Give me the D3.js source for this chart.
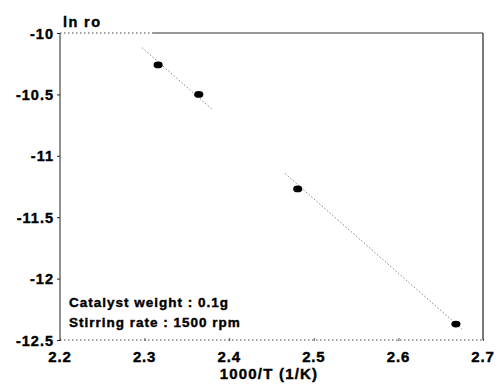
<!DOCTYPE html>
<html><head><meta charset="utf-8">
<script src="https://cdn.jsdelivr.net/npm/d3@7"></script>
<style>body{margin:0;background:#fff}</style>
</head><body>
<svg id="c" width="498" height="384"></svg>
<script>
const xVals = [2.316, 2.364, 2.481, 2.668];
const yVals = [-10.26, -10.50, -11.27, -12.37];
const xTicks = [2.2, 2.3, 2.4, 2.5, 2.6, 2.7];
const yTicks = [-10, -10.5, -11, -11.5, -12, -12.5];
const fitSlope = -6.06;
const fitIntercept = 3.80;
const fitSegments = [[2.297, 2.380], [2.466, 2.675]];
const notes = ["Catalyst weight : 0.1g", "Stirring rate : 1500 rpm"];

const svg = d3.select("#c");
const m = {l: 60, r: 15, t: 33, b: 44};
const W = 498, H = 384;
const x = d3.scaleLinear().domain([2.2, 2.7]).range([m.l, W - m.r]);
const y = d3.scaleLinear().domain([-12.5, -10]).range([H - m.b, m.t]);
const font = "'Liberation Sans', Arial, sans-serif";

function boldText(sel, size, ls) {
  sel.attr("font-family", font).attr("font-weight", "bold")
     .attr("font-size", size).attr("letter-spacing", ls)
     .attr("fill", "#000").attr("stroke", "#000").attr("stroke-width", 0.4);
}

// frame
const x0 = x(2.2), x1 = x(2.7), y0 = y(-12.5), y1 = y(-10);
svg.append("line").attr("x1", x0).attr("x2", x0).attr("y1", y1).attr("y2", y0).attr("stroke", "#222").attr("stroke-width", 1);
svg.append("line").attr("x1", x1).attr("x2", x1).attr("y1", y1).attr("y2", y0).attr("stroke", "#222").attr("stroke-width", 1.2);
svg.append("line").attr("x1", x0).attr("x2", x(2.31)).attr("y1", y1).attr("y2", y1).attr("stroke", "#444").attr("stroke-dasharray", "1.5,2.5");
svg.append("line").attr("x1", x(2.31)).attr("x2", x1).attr("y1", y1).attr("y2", y1).attr("stroke", "#333").attr("stroke-width", 1);
svg.append("line").attr("x1", x0).attr("x2", x1).attr("y1", y0).attr("y2", y0).attr("stroke", "#444").attr("stroke-dasharray", "1.5,2.5");

// axis tick marks
const ay = svg.append("g").attr("transform", `translate(${x0},0)`)
  .call(d3.axisLeft(y).tickValues(yTicks).tickFormat("").tickSize(3));
ay.select(".domain").remove();
ay.selectAll("line").attr("stroke", "#222");

const ax = svg.append("g").attr("transform", `translate(0,${y0})`)
  .call(d3.axisBottom(x).tickValues(xTicks).tickFormat("").tickSize(3));
ax.select(".domain").remove();
ax.selectAll("line").attr("stroke", "#555").attr("transform", "translate(0,-2)");

// tick labels
boldText(svg.append("g").selectAll("text").data(yTicks).enter().append("text")
  .attr("x", x0 - 6).attr("y", d => y(d)).attr("dy", "0.38em").attr("text-anchor", "end")
  .text(d => String(d)), 14.5, 1);
boldText(svg.append("g").selectAll("text").data(xTicks).enter().append("text")
  .attr("x", d => x(d)).attr("y", 361.5).attr("text-anchor", "middle")
  .text(d => d3.format(".1f")(d)), 15, 0.8);

// labels
boldText(svg.append("text").attr("x", x0 + 3).attr("y", 27).text("ln ro"), 14.5, 1.4);
boldText(svg.append("text").attr("x", 269).attr("y", 378.5).attr("text-anchor", "middle").text("1000/T (1/K)"), 15, 1.2);

// fit line
fitSegments.forEach(s => {
  svg.append("line")
    .attr("x1", x(s[0])).attr("y1", y(fitIntercept + fitSlope * s[0]))
    .attr("x2", x(s[1])).attr("y2", y(fitIntercept + fitSlope * s[1]))
    .attr("stroke", "#777").attr("stroke-width", 0.9).attr("stroke-dasharray", "1.5,2");
});

// points
svg.selectAll("path.pt").data(xVals).enter().append("path")
  .attr("class", "pt")
  .attr("d", d3.symbol().type(d3.symbolCircle).size(50))
  .attr("transform", (d, i) => `translate(${x(d)},${y(yVals[i])}) scale(1.15,0.85)`)
  .attr("fill", "#000");

// notes
notes.forEach((t, i) => {
  boldText(svg.append("text").attr("x", 69).attr("y", 307 + i * 19.5).text(t), 13.5, 1);
});
</script>
</body></html>
